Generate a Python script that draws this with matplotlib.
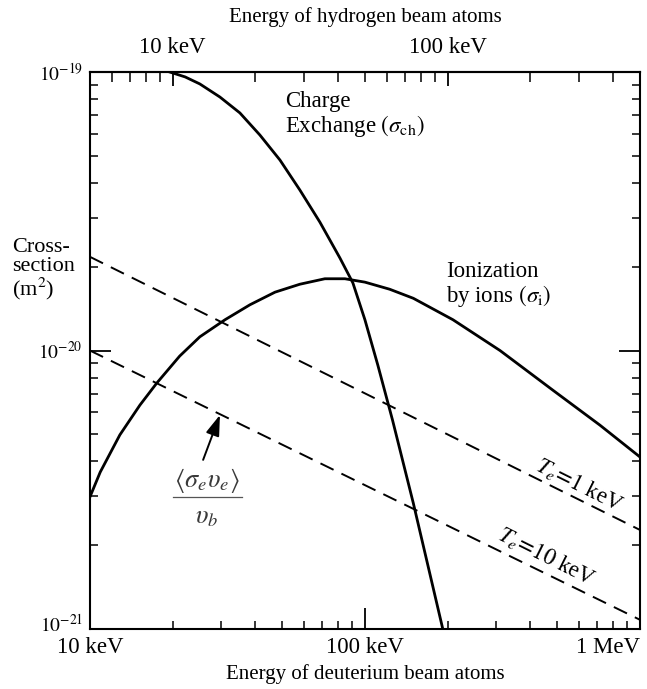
import matplotlib.pyplot as plt
from matplotlib.lines import Line2D
from matplotlib.transforms import ScaledTranslation
from matplotlib.ticker import FixedLocator, NullFormatter, LogLocator

plt.rcParams['font.family'] = ['Liberation Serif', 'DejaVu Serif']
plt.rcParams['mathtext.fontset'] = 'stix'

# deuterium beam energy (keV) vs cross-section (m^2)
cx_energy = [19.5, 22.2, 25.1, 29.7, 35.1, 41.5, 49.1, 58, 68.6, 81.1, 90.4,
             100, 111.4, 126, 150, 172, 192]
cx_sigma = [1.0e-19, 9.6e-20, 9.06e-20, 8.13e-20, 7.13e-20, 5.94e-20, 4.83e-20,
            3.77e-20, 2.89e-20, 2.15e-20, 1.75e-20, 1.29e-20, 8.87e-21, 5.63e-21,
            2.83e-21, 1.59e-21, 1.0e-21]

ion_energy = [10, 10.9, 12.85, 15.2, 17.5, 21.2, 25.1, 31, 38.2, 47.1, 58, 71.5,
              84.6, 100, 123, 150, 209, 310, 483, 715, 1000]
ion_sigma = [2.98e-21, 3.66e-21, 4.98e-21, 6.37e-21, 7.64e-21, 9.55e-21, 1.12e-20,
             1.29e-20, 1.46e-20, 1.62e-20, 1.73e-20, 1.81e-20, 1.81e-20, 1.76e-20,
             1.66e-20, 1.54e-20, 1.29e-20, 1.0e-20, 7.2e-21, 5.4e-21, 4.15e-21]

# electron-impact ionization <sigma_e v_e>/v_b
te1_energy = [10, 1000]
te1_sigma = [2.17e-20, 2.27e-21]
te10_energy = [10, 1000]
te10_sigma = [1.0e-20, 1.08e-21]

bottom_ticks = [10, 100, 1000]
bottom_labels = ["10 keV", "100 keV", "1 MeV"]
top_ticks = [10, 100]
top_labels = ["10 keV", "100 keV"]
y_ticks = [1e-21, 1e-20, 1e-19]
y_labels = [r"$10^{-21}$", r"$10^{-20}$", r"$10^{-19}$"]

fig = plt.figure(figsize=(6.47, 6.89), dpi=100)
ax = fig.add_axes([0.139, 0.087, 0.850, 0.8085])

ax.plot(cx_energy, cx_sigma, color="black", lw=2.0, solid_joinstyle="round")
ax.plot(ion_energy, ion_sigma, color="black", lw=2.0, solid_joinstyle="round")
ax.plot(te1_energy, te1_sigma, color="black", lw=1.4, dashes=(7.5, 4.5))
ax.plot(te10_energy, te10_sigma, color="black", lw=1.4, dashes=(7.5, 4.5))

ax.set_xscale("log")
ax.set_yscale("log")
ax.set_xlim(10, 1000)
ax.set_ylim(1e-21, 1e-19)

for s in ax.spines.values():
    s.set_linewidth(1.5)

ax.set_xticks(bottom_ticks)
ax.set_xticklabels(bottom_labels, fontsize=16.5)
ax.xaxis.set_minor_locator(LogLocator(base=10, subs=range(2, 10)))
ax.xaxis.set_minor_formatter(NullFormatter())
ax.set_yticks(y_ticks)
ax.set_yticklabels(y_labels, fontsize=14)
ax.yaxis.set_minor_locator(LogLocator(base=10, subs=range(2, 10)))
ax.yaxis.set_minor_formatter(NullFormatter())
ax.tick_params(which="major", direction="in", length=15, width=1.3,
               top=False, right=True)
ax.tick_params(axis="x", which="major", pad=6)
ax.tick_params(axis="y", which="major", pad=5)
ax.tick_params(which="minor", direction="in", length=6, width=1.1,
               top=False, right=True)
labs = ax.get_xticklabels()
labs[-1].set_horizontalalignment("right")
# lift the lowest y label clear of the "10 keV" label
ylab = ax.get_yticklabels()[0]
ylab.set_transform(ylab.get_transform() + ScaledTranslation(0, 6 / 100, fig.dpi_scale_trans))

# hydrogen energy is half the deuterium energy at the same velocity
top = ax.secondary_xaxis("top", functions=(lambda e: e / 2, lambda e: e * 2))
top.set_xticks(top_ticks)
top.set_xticklabels(top_labels, fontsize=16.5)
top.xaxis.set_minor_locator(FixedLocator([6, 7, 8, 9, 20, 30, 40, 50, 60, 70, 80, 90,
                                          200, 300, 400]))
top.xaxis.set_minor_formatter(NullFormatter())
top.tick_params(which="major", direction="in", length=10, width=1.3, pad=10)
top.tick_params(which="minor", direction="in", length=7, width=1.1)
top.spines["top"].set_linewidth(1.5)
top.set_xlabel("Energy of hydrogen beam atoms", fontsize=15, labelpad=11)

ax.set_xlabel("Energy of deuterium beam atoms", fontsize=15, labelpad=4)

fig.text(0.018, 0.655, "Cross-\nsection\n(m$^2$)", fontsize=16, ha="left",
         va="top", linespacing=1.0)

ax.text(0.355, 0.965, "Charge\nExchange $(\\sigma_{\\rm ch})$", transform=ax.transAxes,
        fontsize=16.5, ha="left", va="top", linespacing=1.05)
ax.text(0.648, 0.66, "Ionization\nby ions $(\\sigma_{\\rm i})$", transform=ax.transAxes,
        fontsize=16.5, ha="left", va="top", linespacing=1.05)

ax.text(605, 3.29e-21, r"$T_e\!=\!1$ keV", fontsize=16.5, rotation=-26.5,
        ha="center", va="center", rotation_mode="anchor")
ax.text(459, 1.83e-21, r"$T_e\!=\!10$ keV", fontsize=16.5, rotation=-26.5,
        ha="center", va="center", rotation_mode="anchor")

ax.annotate("", xy=(29.7, 5.87e-21), xytext=(25.8, 4.05e-21),
            arrowprops=dict(arrowstyle="-|>,head_length=0.9,head_width=0.3",
                            color="black", lw=1.4, mutation_scale=14,
                            shrinkA=0, shrinkB=0))
ax.text(0.213, 0.267, r"$\langle\sigma_e\upsilon_e\rangle$", transform=ax.transAxes,
        fontsize=19, color="#3a3a3a", ha="center", va="center")
ax.add_line(Line2D([0.151, 0.276], [0.237, 0.237], transform=ax.transAxes,
                   color="#555555", lw=0.9))
ax.text(0.213, 0.199, r"$\upsilon_b$", transform=ax.transAxes,
        fontsize=19, color="#3a3a3a", ha="center", va="center")

fig.savefig("out.png", dpi=100)
